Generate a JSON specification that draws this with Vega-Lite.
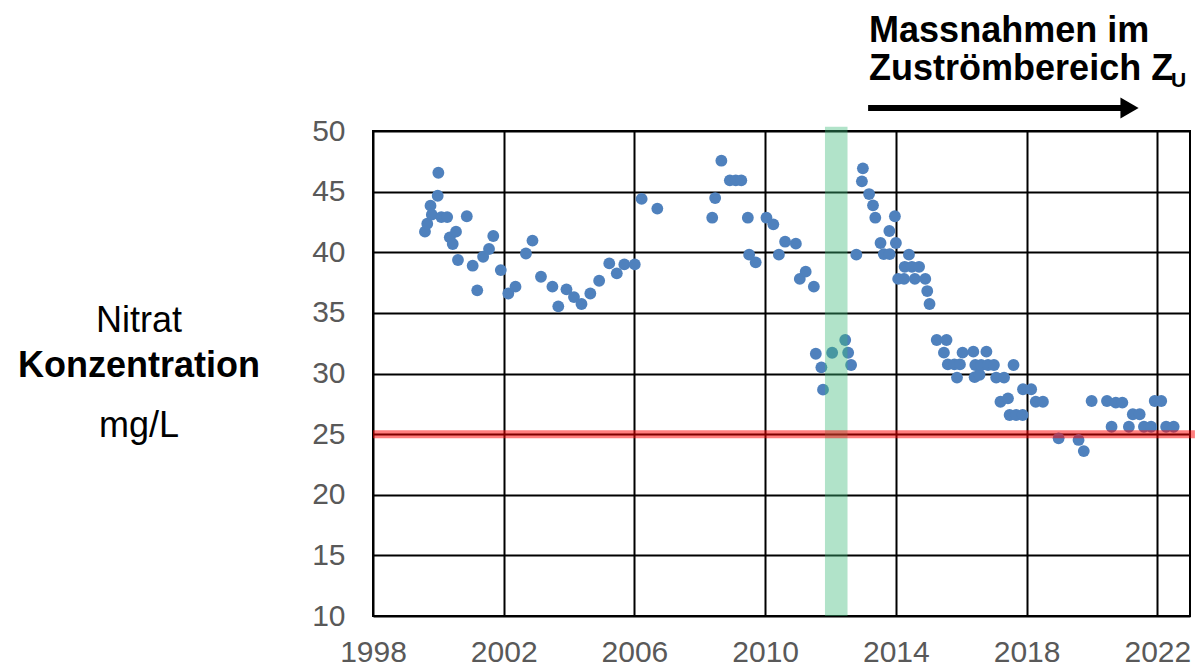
{
  "$schema": "https://vega.github.io/schema/vega-lite/v6.json",
  "width": 817,
  "height": 485,
  "autosize": {"type": "none"},
  "padding": {"left": 373, "top": 131, "right": 8, "bottom": 51},
  "background": "white",
  "config": {
    "font": "Liberation Sans",
    "view": {"stroke": "black", "strokeWidth": 2},
    "axis": {"labelFont": "Liberation Sans"}
  },
  "datasets": {
    "messwerte": [
      {"year": 1999.59, "nitrat": 41.7}, {"year": 1999.66, "nitrat": 42.35}, {"year": 1999.76, "nitrat": 43.84},
      {"year": 1999.8, "nitrat": 43.1}, {"year": 1999.98, "nitrat": 44.66}, {"year": 2000.0, "nitrat": 46.56},
      {"year": 2000.09, "nitrat": 42.9}, {"year": 2000.27, "nitrat": 42.9}, {"year": 2000.35, "nitrat": 41.23},
      {"year": 2000.44, "nitrat": 40.68}, {"year": 2000.54, "nitrat": 41.7}, {"year": 2000.6, "nitrat": 39.36},
      {"year": 2000.87, "nitrat": 42.97}, {"year": 2001.05, "nitrat": 38.89}, {"year": 2001.19, "nitrat": 36.86},
      {"year": 2001.37, "nitrat": 39.63}, {"year": 2001.55, "nitrat": 40.27}, {"year": 2001.68, "nitrat": 41.34},
      {"year": 2001.91, "nitrat": 38.53}, {"year": 2002.14, "nitrat": 36.6}, {"year": 2002.36, "nitrat": 37.16},
      {"year": 2002.68, "nitrat": 39.9}, {"year": 2002.88, "nitrat": 40.96}, {"year": 2003.14, "nitrat": 37.98},
      {"year": 2003.49, "nitrat": 37.16}, {"year": 2003.67, "nitrat": 35.54}, {"year": 2003.92, "nitrat": 36.94},
      {"year": 2004.15, "nitrat": 36.3}, {"year": 2004.38, "nitrat": 35.73}, {"year": 2004.65, "nitrat": 36.6},
      {"year": 2004.92, "nitrat": 37.65}, {"year": 2005.23, "nitrat": 39.08}, {"year": 2005.46, "nitrat": 38.26},
      {"year": 2005.69, "nitrat": 39.0}, {"year": 2006.01, "nitrat": 39.0}, {"year": 2006.22, "nitrat": 44.4},
      {"year": 2006.7, "nitrat": 43.6}, {"year": 2008.38, "nitrat": 42.85}, {"year": 2008.47, "nitrat": 44.47},
      {"year": 2008.66, "nitrat": 47.55}, {"year": 2008.92, "nitrat": 45.93}, {"year": 2009.1, "nitrat": 45.93},
      {"year": 2009.27, "nitrat": 45.93}, {"year": 2009.47, "nitrat": 42.85}, {"year": 2009.51, "nitrat": 39.8},
      {"year": 2009.71, "nitrat": 39.17}, {"year": 2010.04, "nitrat": 42.85}, {"year": 2010.25, "nitrat": 42.3},
      {"year": 2010.42, "nitrat": 39.8}, {"year": 2010.61, "nitrat": 40.87}, {"year": 2010.94, "nitrat": 40.71},
      {"year": 2011.06, "nitrat": 37.8}, {"year": 2011.24, "nitrat": 38.4}, {"year": 2011.49, "nitrat": 37.16},
      {"year": 2011.55, "nitrat": 31.63}, {"year": 2011.72, "nitrat": 30.51}, {"year": 2011.77, "nitrat": 28.67},
      {"year": 2012.05, "nitrat": 31.71}, {"year": 2012.45, "nitrat": 32.76}, {"year": 2012.54, "nitrat": 31.71},
      {"year": 2012.63, "nitrat": 30.7}, {"year": 2012.79, "nitrat": 39.8}, {"year": 2012.96, "nitrat": 45.85},
      {"year": 2012.99, "nitrat": 46.92}, {"year": 2013.18, "nitrat": 44.8}, {"year": 2013.3, "nitrat": 43.87},
      {"year": 2013.37, "nitrat": 42.85}, {"year": 2013.53, "nitrat": 40.76}, {"year": 2013.63, "nitrat": 39.85},
      {"year": 2013.8, "nitrat": 41.75}, {"year": 2013.81, "nitrat": 39.85}, {"year": 2013.97, "nitrat": 42.97},
      {"year": 2014.0, "nitrat": 40.76}, {"year": 2014.07, "nitrat": 37.8}, {"year": 2014.25, "nitrat": 37.8},
      {"year": 2014.27, "nitrat": 38.8}, {"year": 2014.4, "nitrat": 39.8}, {"year": 2014.49, "nitrat": 38.8},
      {"year": 2014.58, "nitrat": 37.8}, {"year": 2014.71, "nitrat": 38.8}, {"year": 2014.9, "nitrat": 37.8},
      {"year": 2014.96, "nitrat": 36.8}, {"year": 2015.03, "nitrat": 35.73}, {"year": 2015.25, "nitrat": 32.76},
      {"year": 2015.47, "nitrat": 31.72}, {"year": 2015.55, "nitrat": 32.76}, {"year": 2015.59, "nitrat": 30.75},
      {"year": 2015.79, "nitrat": 30.75}, {"year": 2015.87, "nitrat": 29.66}, {"year": 2015.96, "nitrat": 30.75},
      {"year": 2016.04, "nitrat": 31.72}, {"year": 2016.37, "nitrat": 31.8}, {"year": 2016.41, "nitrat": 29.7},
      {"year": 2016.43, "nitrat": 30.7}, {"year": 2016.56, "nitrat": 29.9}, {"year": 2016.61, "nitrat": 30.7},
      {"year": 2016.77, "nitrat": 31.8}, {"year": 2016.82, "nitrat": 30.7}, {"year": 2017.0, "nitrat": 30.7},
      {"year": 2017.07, "nitrat": 29.66}, {"year": 2017.2, "nitrat": 27.67}, {"year": 2017.31, "nitrat": 29.66},
      {"year": 2017.43, "nitrat": 27.95}, {"year": 2017.48, "nitrat": 26.58}, {"year": 2017.6, "nitrat": 30.7},
      {"year": 2017.68, "nitrat": 26.58}, {"year": 2017.88, "nitrat": 26.58}, {"year": 2017.89, "nitrat": 28.7},
      {"year": 2018.14, "nitrat": 28.7}, {"year": 2018.28, "nitrat": 27.67}, {"year": 2018.5, "nitrat": 27.67},
      {"year": 2018.98, "nitrat": 24.65}, {"year": 2019.59, "nitrat": 24.52}, {"year": 2019.75, "nitrat": 23.6},
      {"year": 2019.99, "nitrat": 27.73}, {"year": 2020.46, "nitrat": 27.73}, {"year": 2020.6, "nitrat": 25.61},
      {"year": 2020.73, "nitrat": 27.6}, {"year": 2020.93, "nitrat": 27.6}, {"year": 2021.13, "nitrat": 25.61},
      {"year": 2021.25, "nitrat": 26.64}, {"year": 2021.46, "nitrat": 26.64}, {"year": 2021.59, "nitrat": 25.61},
      {"year": 2021.81, "nitrat": 25.61}, {"year": 2021.92, "nitrat": 27.73}, {"year": 2022.12, "nitrat": 27.73},
      {"year": 2022.27, "nitrat": 25.61}, {"year": 2022.5, "nitrat": 25.61}
    ],
    "one": [{}]
  },
  "layer": [
    {
      "data": {"name": "messwerte"},
      "mark": {"type": "circle", "size": 140, "color": "#4f81bd", "opacity": 1},
      "encoding": {
        "x": {
          "field": "year", "type": "quantitative",
          "scale": {"domain": [1998, 2023], "nice": false, "zero": false},
          "axis": {
            "title": null, "values": [1998, 2002, 2006, 2010, 2014, 2018, 2022], "format": "d",
            "grid": true, "gridColor": "black", "gridWidth": 2, "gridOpacity": 1,
            "ticks": false, "domain": false, "labelFlush": false,
            "labelFontSize": 30, "labelColor": "#595959", "labelPadding": 21
          }
        },
        "y": {
          "field": "nitrat", "type": "quantitative",
          "scale": {"domain": [10, 50], "nice": false, "zero": false},
          "axis": {
            "title": null, "values": [10, 15, 20, 25, 30, 35, 40, 45, 50],
            "grid": true, "gridColor": "black", "gridWidth": 2, "gridOpacity": 1,
            "ticks": false, "domain": false, "labelFlush": false,
            "labelFontSize": 30, "labelColor": "#595959", "labelPadding": 28
          }
        }
      }
    },
    {
      "data": {"name": "one"},
      "mark": {"type": "rect", "color": "#3cb878", "opacity": 0.4},
      "encoding": {
        "x": {"datum": 2011.83}, "x2": {"datum": 2012.52},
        "y": {"datum": 10}, "y2": {"datum": 50.35}
      }
    },
    {
      "data": {"name": "one"},
      "mark": {"type": "rule", "color": "red", "opacity": 0.5, "strokeWidth": 8},
      "encoding": {
        "x": {"datum": 1998}, "x2": {"datum": 2023.15},
        "y": {"datum": 25}
      }
    },
    {
      "data": {"name": "one"},
      "mark": {"type": "text", "text": "Nitrat", "fontSize": 36, "align": "center", "baseline": "alphabetic", "color": "black"},
      "encoding": {"x": {"datum": 1990.84}, "y": {"datum": 33.42}}
    },
    {
      "data": {"name": "one"},
      "mark": {"type": "text", "text": "Konzentration", "fontSize": 36, "fontWeight": "bold", "align": "center", "baseline": "alphabetic", "color": "black"},
      "encoding": {"x": {"datum": 1990.84}, "y": {"datum": 29.71}}
    },
    {
      "data": {"name": "one"},
      "mark": {"type": "text", "text": "mg/L", "fontSize": 36, "align": "center", "baseline": "alphabetic", "color": "black"},
      "encoding": {"x": {"datum": 1990.84}, "y": {"datum": 24.76}}
    },
    {
      "data": {"name": "one"},
      "mark": {"type": "text", "text": "Massnahmen im", "fontSize": 36, "fontWeight": "bold", "align": "left", "baseline": "alphabetic", "color": "black"},
      "encoding": {"x": {"datum": 2013.18}, "y": {"datum": 57.36}}
    },
    {
      "data": {"name": "one"},
      "mark": {"type": "text", "text": "Zuströmbereich Z", "fontSize": 36, "fontWeight": "bold", "align": "left", "baseline": "alphabetic", "color": "black"},
      "encoding": {"x": {"datum": 2013.18}, "y": {"datum": 54.21}}
    },
    {
      "data": {"name": "one"},
      "mark": {"type": "text", "text": "U", "fontSize": 21, "fontWeight": "bold", "align": "left", "baseline": "alphabetic", "color": "black"},
      "encoding": {"x": {"datum": 2022.42}, "y": {"datum": 53.63}}
    },
    {
      "data": {"name": "one"},
      "mark": {"type": "rule", "color": "black", "strokeWidth": 6},
      "encoding": {
        "x": {"datum": 2013.15}, "x2": {"datum": 2020.98},
        "y": {"datum": 51.9}
      }
    },
    {
      "data": {"name": "one"},
      "mark": {"type": "point", "shape": "triangle-right", "size": 440, "filled": true, "color": "black", "opacity": 1},
      "encoding": {"x": {"datum": 2021.15}, "y": {"datum": 51.9}}
    }
  ]
}
